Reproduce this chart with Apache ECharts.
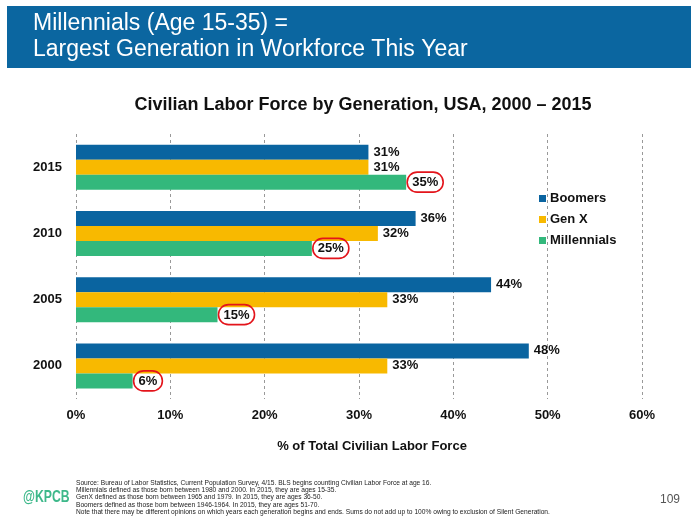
<!DOCTYPE html>
<html>
<head>
<meta charset="utf-8">
<script src="https://cdn.jsdelivr.net/npm/echarts@6/dist/echarts.min.js"></script>
<style>
html,body{margin:0;padding:0;background:#fff;}
#c{width:700px;height:525px;}
</style>
</head>
<body>
<div id="c"></div>
<script>
var years = ['2015', '2010', '2005', '2000'];
var boomers = [31, 36, 44, 48];
var genX = [31, 32, 33, 33];
var millennials = [35, 25, 15, 6];
var xTicks = [0, 10, 20, 30, 40, 50, 60];

var FONT = '"Liberation Sans", Arial, sans-serif';
var chart = echarts.init(document.getElementById('c'));

var baseLabel = {
  show: true, position: 'right', distance: 5,
  fontFamily: FONT, fontWeight: 'bold', fontSize: 13, color: '#111',
  formatter: '{c}%'
};

chart.setOption({
  animation: false,
  title: [{
    text: 'Civilian Labor Force by Generation, USA, 2000 \u2013 2015',
    left: 358, top: 91, textAlign: 'center',
    textStyle: {fontFamily: FONT, fontWeight: 'bold', fontSize: 18, color: '#111'}
  }, {
    text: '% of Total Civilian Labor Force',
    left: 367, top: 435, textAlign: 'center',
    textStyle: {fontFamily: FONT, fontWeight: 'bold', fontSize: 13, color: '#111'}
  }],
  legend: {
    orient: 'vertical', left: 534, top: 187, itemGap: 8,
    itemWidth: 7, itemHeight: 7, icon: 'rect',
    textStyle: {fontFamily: FONT, fontWeight: 'bold', fontSize: 13, color: '#111', padding: [0, 0, 0, -1]},
    data: ['Boomers', 'Gen X', 'Millennials']
  },
  grid: {left: 76, right: 58, top: 134, bottom: 126, containLabel: false},
  xAxis: {
    type: 'value', min: 0, max: 60, interval: 10,
    axisLine: {show: false}, axisTick: {show: false},
    splitLine: {show: true, lineStyle: {type: [3, 3], color: '#999', width: 1}},
    axisLabel: {
      margin: 10, fontFamily: FONT, fontWeight: 'bold', fontSize: 13, color: '#111',
      formatter: function (v) { return xTicks.indexOf(v) >= 0 ? v + '%' : ''; }
    }
  },
  yAxis: {
    type: 'category', data: years, inverse: true,
    axisLine: {show: false}, axisTick: {show: false},
    axisLabel: {margin: 14, fontFamily: FONT, fontWeight: 'bold', fontSize: 13, color: '#111'}
  },
  series: [{
    name: 'Boomers', type: 'bar', data: boomers, barWidth: 15, barGap: '0%',
    itemStyle: {color: '#0A64A0'}, label: baseLabel
  }, {
    name: 'Gen X', type: 'bar', data: genX, barWidth: 15, barGap: '0%',
    itemStyle: {color: '#F8B900'}, label: baseLabel
  }, {
    name: 'Millennials', type: 'bar', data: millennials, barWidth: 15, barGap: '0%',
    itemStyle: {color: '#33B87C'},
    label: {
      show: true, position: 'right', distance: 1,
      formatter: '{o|{c}%}',
      rich: {
        o: {
          fontFamily: FONT, fontWeight: 'bold', fontSize: 13, color: '#111',
          borderColor: '#E3141B', borderWidth: 1.6, borderRadius: 12,
          padding: [4, 5, 3, 5]
        }
      }
    }
  }],
  graphic: [
    {type: 'rect', shape: {x: 7, y: 6, width: 684, height: 62}, style: {fill: '#0B66A0'}, silent: true},
    {type: 'text', x: 33, y: 11, style: {text: 'Millennials (Age 15-35) =\nLargest Generation in Workforce This Year', fill: '#fff', font: '23px "Liberation Sans", Arial, sans-serif', lineHeight: 26}},
    {type: 'text', x: 23, y: 489, scaleX: 0.72, style: {text: '@KPCB', fill: '#3DB88A', font: 'bold 17px "Liberation Sans", Arial, sans-serif'}},
    {type: 'text', x: 660, y: 494, style: {text: '109', fill: '#555', font: '12px "Liberation Sans", Arial, sans-serif'}},
    {type: 'text', x: 76, y: 479, style: {
      text: 'Source: Bureau of Labor Statistics, Current Population Survey, 4/15. BLS begins counting Civilian Labor Force at age 16.\nMillennials defined as those born between 1980 and 2000. In 2015, they are ages 15-35.\nGenX defined as those born between 1965 and 1979. In 2015, they are ages 36-50.\nBoomers defined as those born between 1946-1964. In 2015, they are ages 51-70.\nNote that there may be different opinions on which years each generation begins and ends. Sums do not add up to 100% owing to exclusion of Silent Generation.',
      fill: '#222', font: '6.65px "Liberation Sans", Arial, sans-serif', lineHeight: 7.4}}
  ]
});
</script>
</body>
</html>
